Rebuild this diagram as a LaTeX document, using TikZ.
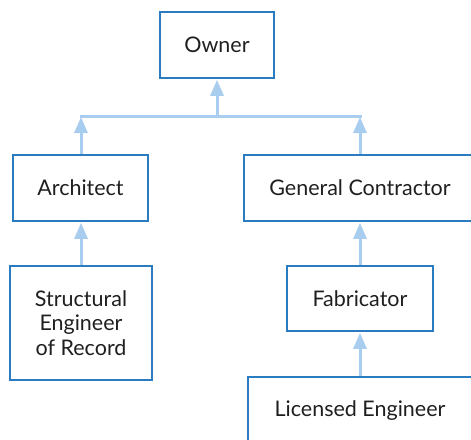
\documentclass[tikz,border=0pt]{standalone}
\usepackage{fontspec}
\setmainfont{Lato}
\usetikzlibrary{arrows.meta}
\definecolor{boxblue}{HTML}{2B7BC0}
\definecolor{arrblue}{HTML}{A9CDEE}
\tikzset{
  box/.style={draw=boxblue, line width=1.6pt, inner sep=0pt, align=center,
    font=\fontsize{21.5}{24.5}\selectfont, text=black!88},
  link/.style={draw=arrblue, line width=3pt},
  arr/.style={link, -{Triangle[length=16pt,width=13pt]}, shorten >=1pt}
}
\begin{document}
\begin{tikzpicture}[x=1pt,y=-1pt]
\path[use as bounding box, clip] (0,0) rectangle (471,439);
\node[box, minimum width=114pt, minimum height=66pt] (owner) at (217,45) {Owner};
\node[box, minimum width=135pt, minimum height=66pt] (arch) at (80.5,188) {Architect};
\node[box, minimum width=232pt, minimum height=66pt] (gc) at (360,188) {General Contractor};
\node[box, minimum width=142pt, minimum height=114pt] (seor) at (81,323) {Structural\\Engineer\\of Record};
\node[box, minimum width=146pt, minimum height=65pt] (fab) at (360,298.5) {Fabricator};
\node[box, minimum width=224pt, minimum height=68pt] (le) at (360,411) {Licensed Engineer};
\coordinate (barL) at (81,116);
\coordinate (barM) at (217,116);
\coordinate (barR) at (360,116);
\draw[link] ([xshift=-1.5pt]barL) -- ([xshift=1.5pt]barR);
\draw[arr] (barM) -- (owner.south);
\draw[arr] (arch.north -| barL) -- (barL);
\draw[arr] (gc.north) -- (barR);
\draw[arr] (seor.north) -- (seor.north |- arch.south);
\draw[arr] (fab.north) -- (gc.south);
\draw[arr] (le.north) -- (fab.south);
\end{tikzpicture}
\end{document}
